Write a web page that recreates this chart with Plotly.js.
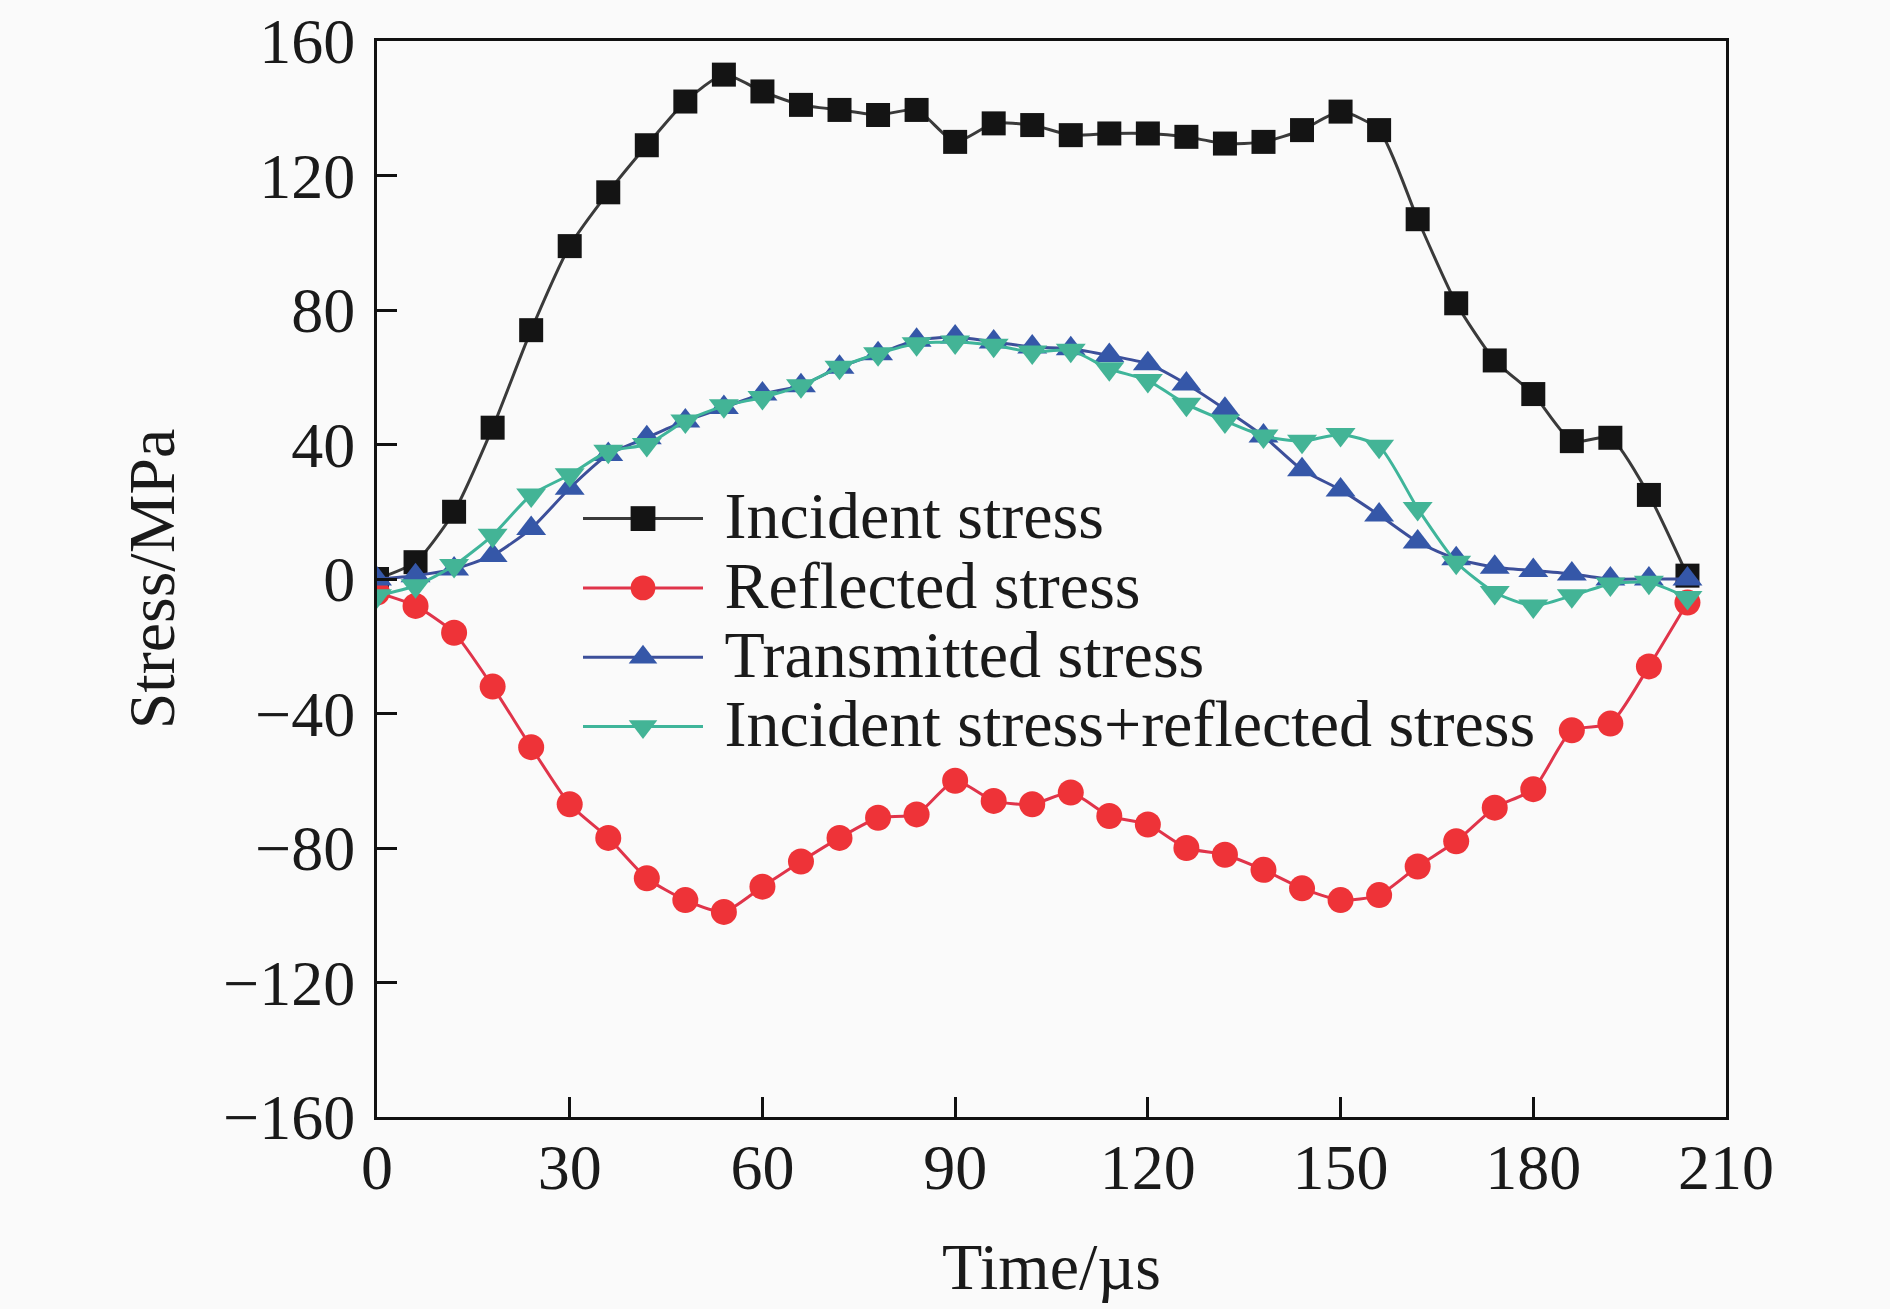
<!DOCTYPE html>
<html>
<head>
<meta charset="utf-8">
<script src="https://cdn.plot.ly/plotly-3.0.1.min.js"></script>
<style>
  html, body { margin: 0; padding: 0; background: #fafafa; }
  #chart { width: 1890px; height: 1309px; }
</style>
</head>
<body>
<div id="chart"></div>
<script>
// time axis, every 6 µs
const time = [0, 6, 12, 18, 24, 30, 36, 42, 48, 54, 60, 66, 72, 78, 84, 90, 96, 102,
  108, 114, 120, 126, 132, 138, 144, 150, 156, 162, 168, 174, 180, 186, 192, 198, 204];

const incident = [0, 5, 20, 45, 74, 99, 115, 129, 142, 150, 145, 141, 139.5, 138, 139.5, 130,
  135.5, 135, 132, 132.5, 132.5, 131.5, 129.5, 130, 133.5, 139, 133.5, 107, 82, 65, 55, 41, 42, 25, 1];

const reflected = [-4, -8, -16, -32, -50, -67, -77, -89, -95.5, -99, -91.5, -84, -77, -71, -70, -60,
  -66, -67, -63.5, -70.5, -73, -80, -82, -86.5, -92, -95.5, -94, -85.5, -78, -68, -62.5, -45, -43, -26, -7];

const transmitted = [0, 1, 3, 7, 15, 27, 37, 42, 47, 51, 55, 57.5, 63, 67, 71, 72,
  70.5, 69, 68.5, 66.5, 64, 58, 50.5, 42.5, 32.5, 26.5, 19, 11, 6, 3.5, 2.5, 1.5, 0, 0, 0];

const incPlusRef = [-5, -2, 4, 13, 25, 31, 38, 40, 47, 51.5, 54, 57.5, 63, 67, 70, 70.5,
  69.5, 67.5, 68, 62.5, 59, 52, 47, 42.5, 41, 43, 39.5, 21, 5, -4, -8, -5, -1.5, -1, -5.5];

const seriesNames = ["Incident stress", "Reflected stress", "Transmitted stress",
  "Incident stress+reflected stress"];

const xTicks = [0, 30, 60, 90, 120, 150, 180, 210];
const yTicks = [-160, -120, -80, -40, 0, 40, 80, 120, 160];

window.addEventListener("DOMContentLoaded", () => {

  const FONT = "Liberation Serif, Times New Roman, serif";
  const INK = "#1a1a1a";

  function series(y, name, lineColor, markerColor, symbol, size) {
    return {
      x: time, y: y,
      // bigger glyphs than the legend row height (legend spacing is tight in the original)
      name: '<span style="font-size:66px">&nbsp;' + name + '</span>',
      type: "scatter", mode: "lines+markers",
      line: { color: lineColor, width: 3, shape: "spline", smoothing: 0.6 },
      marker: { color: markerColor, symbol: symbol, size: size,
                line: { color: markerColor, width: 0 } }
    };
  }

  const traces = [
    series(incident, seriesNames[0], "#3a3a3a", "#141414", "square", 24),
    series(reflected, seriesNames[1], "#e0344a", "#ee3338", "circle", 26),
    series(transmitted, seriesNames[2], "#3c4f9a", "#3557a8", "triangle-up", 26),
    series(incPlusRef, seriesNames[3], "#3fb59a", "#43b496", "triangle-down", 26)
  ];

  const axisCommon = {
    showgrid: false, zeroline: false,
    showline: true, linecolor: "#111", linewidth: 3, mirror: true,
    ticks: "inside", ticklen: 20, tickwidth: 3, tickcolor: "#111",
    tickfont: { family: FONT, size: 64, color: INK }
  };

  const layout = {
    width: 1890, height: 1309,
    paper_bgcolor: "#fafafa", plot_bgcolor: "#fafafa",
    margin: { l: 377, r: 164, t: 41, b: 192 },
    showlegend: true,
    legend: {
      x: 0.149, y: 0.593, xanchor: "left", yanchor: "top",
      bgcolor: "rgba(0,0,0,0)", borderwidth: 0,
      itemwidth: 120, tracegroupgap: 0,
      font: { family: FONT, size: 51, color: INK }
    },
    xaxis: Object.assign({}, axisCommon, {
      range: [0, 210], tickvals: xTicks, ticktext: xTicks.map(String),
      ticklabelstandoff: -8,
      title: { text: "Time/µs", font: { family: FONT, size: 66, color: INK }, standoff: 42 }
    }),
    yaxis: Object.assign({}, axisCommon, {
      range: [-160, 160], tickvals: yTicks,
      ticklabelstandoff: 6,
      title: { text: "Stress/MPa", font: { family: FONT, size: 66, color: INK }, standoff: 28 }
    })
  };

  Plotly.newPlot("chart", traces, layout, { displayModeBar: false, staticPlot: true })
    .then(gd => {
      // legend markers are capped at 16px by plotly; scale them up to match the plot markers
      gd.querySelectorAll(".legend .legendpoints path").forEach(p => {
        const t = p.getAttribute("transform") || "";
        p.setAttribute("transform", t + " scale(1.55)");
      });
    });
});
</script>
</body>
</html>
